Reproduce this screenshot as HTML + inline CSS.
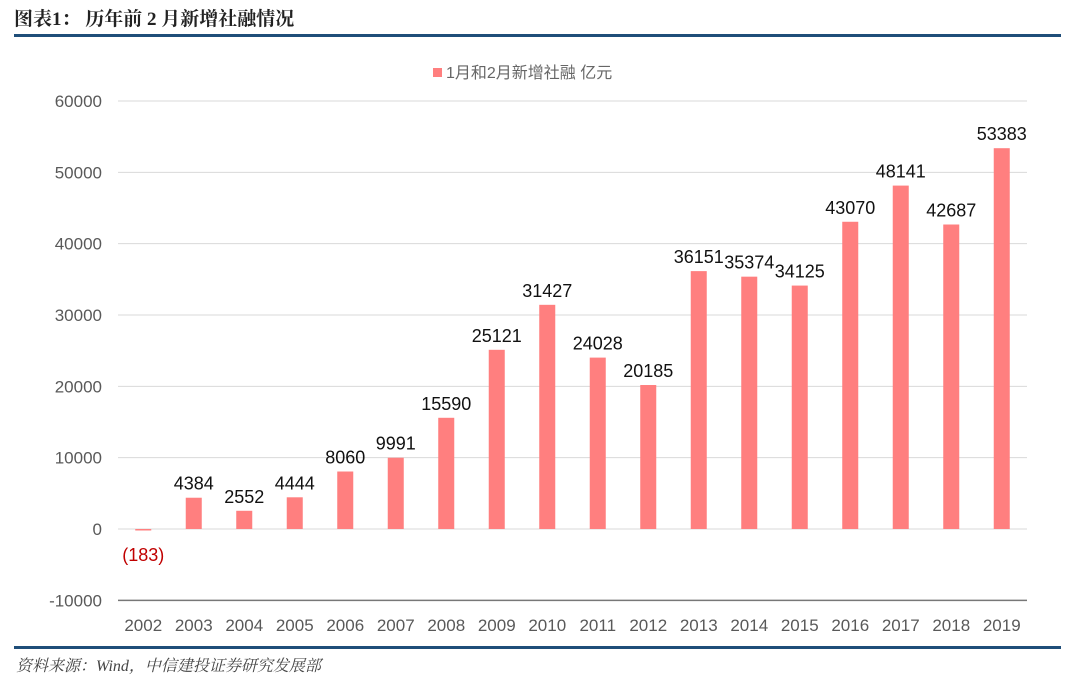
<!DOCTYPE html>
<html><head><meta charset="utf-8"><style>
body{margin:0;background:#fff;width:1080px;height:682px;overflow:hidden;font-family:"Liberation Sans","Noto Sans CJK SC",sans-serif}
</style></head><body>
<svg width="1080" height="682" xmlns="http://www.w3.org/2000/svg">
<text x="14" y="25" font-size="19" font-weight="bold" fill="#222" font-family="Liberation Serif, Noto Serif CJK SC, serif">图表1：   历年前 2 月新增社融情况</text>
<rect x="14" y="34" width="1047" height="3" fill="#1f4e79"/>
<g>
<rect x="433" y="68" width="9" height="9" fill="#ff7f7f"/>
<text x="446" y="78" font-size="16" fill="#666">1月和2月新增社融 亿元</text>
</g>
<g id="grid"></g><g id="bars"></g><g id="labels"></g>
<rect x="14" y="646" width="1047" height="3" fill="#1f4e79"/>
<text x="16" y="671" font-size="16" font-style="italic" fill="#444" font-family="Liberation Serif, Noto Serif CJK SC, serif">资料来源：Wind，中信建投证券研究发展部</text>
</svg>
<script>
const years=["2002","2003","2004","2005","2006","2007","2008","2009","2010","2011","2012","2013","2014","2015","2016","2017","2018","2019"];
const values=[-183,4384,2552,4444,8060,9991,15590,25121,31427,24028,20185,36151,35374,34125,43070,48141,42687,53383];
const ticks=[-10000,0,10000,20000,30000,40000,50000,60000];
const NS="http://www.w3.org/2000/svg";
const x0=118,x1=1027,bw=(x1-x0)/years.length;
const y=v=>529-v*(428/60000);
const xc=i=>x0+bw*(i+0.5);
function mk(t,a,p){const e=document.createElementNS(NS,t);for(const k in a)e.setAttribute(k,a[k]);document.getElementById(p).appendChild(e);return e;}
ticks.forEach(t=>{
  const l=mk('line',{x1:x0,x2:x1,y1:y(t),y2:y(t),stroke:t===-10000?'#777':'#d9d9d9','stroke-width':t===-10000?1.5:1},'grid');
  
  
  const tx=mk('text',{x:102,y:y(t)+6,'text-anchor':'end','font-size':17,fill:'#595959'},'grid');
  tx.textContent=t;
  
  
});
years.forEach((yr,i)=>{
  const tx=mk('text',{x:xc(i),y:631,'text-anchor':'middle','font-size':17,fill:'#595959'},'labels');
  tx.textContent=yr;
  
  
  const v=values[i];
  const top=Math.min(y(v),y(0)),h=Math.max(Math.abs(y(v)-y(0)),1.5);
  const r=mk('rect',{x:xc(i)-8,y:top,width:16,height:h,fill:'#ff7f7f'},'bars');
  
  
  const vl=mk('text',{x:xc(i),y:v<0?y(0)+32:y(v)-8,'text-anchor':'middle','font-size':18,fill:v<0?'#c00000':'#111'},'labels');
  vl.textContent=v<0?'('+(-v)+')':v;
  
  
});
</script>
</body></html>
